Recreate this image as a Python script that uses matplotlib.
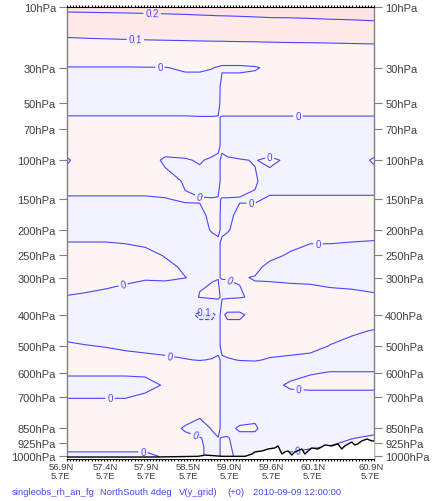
import matplotlib.pyplot as plt
import numpy as np
from matplotlib.transforms import blended_transform_factory

plt.rcParams['font.family'] = ['Liberation Sans', 'DejaVu Sans']

# section columns (deg N) and pressure levels (hPa)
lat = [56.90, 57.13, 57.40, 57.66, 57.92, 58.18, 58.44, 58.63, 58.79, 58.87,
       58.92, 58.99, 59.15, 59.35, 59.54, 59.81, 60.07, 60.33, 60.61, 60.90]
plev = [10, 15, 20, 25, 30, 40, 50, 60, 70, 85, 100, 125, 150, 175, 200, 225,
        250, 275, 300, 350, 400, 450, 500, 550, 600, 650, 700, 775, 850, 900,
        950, 1000, 1013]

# V increment, one row per level, one value per column
v_inc = [
    [.22, .22, .22, .22, .22, .22, .22, .22, .22, .22, .22, .22, .22, .22, .22, .218, .217, .216, .215, .215],
    [.13, .135, .14, .145, .15, .155, .16, .165, .168, .17, .17, .171, .173, .176, .179, .182, .185, .188, .19, .192],
    [.082, .083, .084, .085, .086, .087, .088, .089, .09, .09, .09, .091, .092, .093, .095, .097, .098, .1, .101, .102],
    [.04, .04, .04, .04, .04, .04, .04, .04, .04, .04, .04, .04, .04, .04, .05, .055, .06, .065, .07, .07],
    [-.003, -.003, -.003, -.003, -.002, -.002, .008, .008, .002, -.005, -.01, -.01, -.01, -.005, .01, .03, .035, .04, .045, .05],
    [-.03, -.03, -.03, -.03, -.03, -.03, -.03, -.03, -.03, -.03, .03, .03, .03, .03, .03, .035, .035, .04, .04, .04],
    [-.02, -.02, -.02, -.02, -.02, -.02, -.02, -.02, -.02, -.02, .025, .025, .025, .025, .025, .025, .025, .025, .025, .025],
    [.002, .002, .002, .002, .002, .002, .002, .001, .001, .002, -.002, -.002, -.002, -.002, -.002, -.002, -.002, -.002, -.002, -.002],
    [.02, .02, .02, .02, .02, .02, .02, .02, .02, .02, -.02, -.02, -.02, -.02, -.02, -.02, -.02, -.02, -.02, -.02],
    [.02, .03, .03, .03, .03, .03, .03, .03, .03, .03, -.03, -.03, -.03, -.03, -.03, -.03, -.03, -.03, -.03, -.02],
    [-.005, .02, .03, .03, .03, -.01, -.005, .005, -.01, -.03, .03, .01, .003, -.002, .01, -.01, -.03, -.03, -.02, .005],
    [.02, .02, .02, .02, .02, .02, -.005, -.02, -.03, -.03, .03, .03, .02, .005, -.02, -.02, -.02, -.02, -.02, -.02],
    [-.005, -.005, -.005, -.005, -.005, -.002, .005, .003, .003, .005, -.003, -.003, -.003, -.006, .006, .006, .006, .006, .006, .006],
    [-.03, -.03, -.03, -.03, -.03, -.03, -.02, -.01, .01, .02, -.02, -.01, .01, .02, .02, .02, .02, .02, .02, .02],
    [-.02, -.02, -.02, -.02, -.02, -.02, -.02, -.02, .005, .01, -.01, -.005, .02, .02, .02, .02, .02, .02, .02, .02],
    [.002, .002, .002, -.001, -.005, -.02, -.02, -.02, -.02, -.01, .01, .02, .02, .02, .02, .01, .001, .001, -.002, -.005],
    [.02, .02, .02, .02, .01, -.002, -.02, -.02, -.02, -.02, .02, .02, .02, .02, .01, -.005, -.02, -.02, -.02, -.02],
    [.02, .02, .02, .02, .01, .008, -.005, -.02, -.01, -.01, .01, .01, .02, .01, -.01, -.02, -.02, -.02, -.02, -.02],
    [.01, .01, .008, .005, .003, .004, .0005, -.005, -.003, -.001, .001, .001, .003, -.002, -.005, -.008, -.01, -.012, -.014, -.016],
    [-.001, -.003, -.006, -.01, -.02, -.02, -.02, .002, .01, .01, -.01, -.01, -.005, .01, .02, .02, .02, .012, .01, .005],
    [-.03, -.03, -.03, -.03, -.03, -.03, -.06, -.12, -.12, -.08, .08, .12, .12, .06, .02, .02, .02, .02, .02, .02],
    [-.02, -.02, -.01, -.01, -.01, -.01, -.02, -.05, -.05, -.03, .03, .05, .05, .02, .01, .01, .01, .01, .005, -.002],
    [.008, .002, -.002, -.005, -.01, -.01, -.01, -.02, -.01, -.01, .01, .01, .01, .01, .01, .01, .01, -.001, -.01, -.02],
    [.02, .02, .02, .01, .01, .005, .001, -.001, .001, .005, -.005, -.002, .001, .002, -.002, -.005, -.01, -.02, -.02, -.02],
    [.005, .005, .005, .005, .005, .02, .02, .02, .02, .02, -.02, -.02, -.02, -.02, -.02, -.01, -.003, .002, .002, .002],
    [-.015, -.015, -.015, -.015, -.01, .003, .02, .02, .02, .02, -.02, -.02, -.02, -.02, -.01, .005, .015, .015, .015, .015],
    [-.002, -.002, -.002, -.002, .005, .02, .02, .02, .02, .02, -.02, -.02, -.02, -.02, -.02, -.01, -.02, -.02, -.02, -.02],
    [.02, .02, .02, .02, .02, .02, .02, .01, .02, .02, -.02, -.02, -.02, -.01, -.02, -.02, -.02, -.02, -.02, -.02],
    [.02, .02, .02, .02, .02, .02, -.005, -.02, .003, .01, -.01, -.01, .005, .005, -.02, -.02, -.02, -.02, -.02, -.01],
    [.02, .02, .02, .02, .02, .02, .01, .002, -.01, -.001, .001, .002, -.01, -.01, -.02, -.02, -.015, -.01, -.001, .005],
    [.01, .01, .01, .01, .01, .01, .01, .01, -.02, -.01, .01, .01, -.02, -.02, -.02, -.01, -.002, .002, .01, .01],
    [-.01, -.01, -.01, -.01, -.01, .005, .01, .01, -.02, -.01, .01, .01, -.01, -.01, -.01, .01, .01, .01, .01, .01],
    [-.01, -.01, -.01, -.01, -.01, .005, .01, .01, -.02, -.01, .01, .01, -.01, -.01, -.01, .01, .01, .01, .01, .01],
]

# surface pressure along the section (hPa)
sfc_lat = [56.90, 58.05, 58.61, 58.70, 58.92, 59.22, 59.31, 59.35, 59.44, 59.52,
           59.61, 59.65, 59.70, 59.74, 59.78, 59.83, 59.87, 59.96, 60.00, 60.04,
           60.09, 60.17, 60.26, 60.35, 60.43, 60.48, 60.52, 60.61, 60.65, 60.69,
           60.74, 60.81, 60.87, 60.90]
sfc_p = [1004, 1004, 1000, 993, 1000, 1000, 987, 975, 970, 959,
         953, 942, 987, 975, 970, 993, 975, 959, 987, 970,
         953, 959, 937, 942, 931, 959, 942, 921, 937, 931,
         915, 905, 915, 915]

clevels = [-0.3, -0.2, -0.1, 0.0, 0.1, 0.2, 0.3]
fill_colors = ['#dcdcff', '#e4e4fb', '#f3f3ff', '#fff4f4', '#ffe9e9', '#ffe3e3']

ytick_p = [10, 30, 50, 70, 100, 150, 200, 250, 300, 400, 500, 600, 700, 850, 925, 1000]
xtick_pos = [56.82, 57.40, 57.93, 58.48, 59.01, 59.56, 60.10, 60.86]
xtick_lat = ['56.9N', '57.4N', '57.9N', '58.5N', '59.0N', '59.6N', '60.1N', '60.9N']
xtick_lon = ['5.7E'] * 8

caption = ['singleobs_rh_an_fg', 'NorthSouth 4deg', 'V(y_grid)', '(+0)', '2010-09-09 12:00:00']
caption_x = [12, 100, 179, 227, 253]

# contour lines drawn, with where their labels go (lat, hPa)
lab_pos = {
    0.2: [(58.01, 11.1)],
    0.1: [(57.79, 18.6)],
    0.0: [(58.11, 29.6), (59.91, 60), (59.52, 90), (58.63, 145), (59.30, 158),
          (60.17, 219), (59.04, 300), (57.63, 316), (58.24, 535), (57.46, 692),
          (59.92, 680), (57.89, 975), (58.58, 874), (59.91, 975)],
    -0.1: [(58.67, 394)],
}

line_col = '#4646ff'
kappa = 0.286


def fwd(p):
    p = np.asarray(p, dtype=float)
    return np.sign(p) * np.abs(p) ** kappa


def inv(t):
    t = np.asarray(t, dtype=float)
    return np.sign(t) * np.abs(t) ** (1.0 / kappa)


fig = plt.figure(figsize=(4.39, 5.02), dpi=100)
ax = fig.add_axes([0.1526, 0.0845, 0.6993, 0.8996])
ax.set_yscale('function', functions=(fwd, inv))
ax.set_xlim(56.9, 60.9)
ax.set_ylim(1013, 10)

V = np.array(v_inc)
ax.contourf(lat, plev, V, levels=clevels, colors=fill_colors)

for lev, pos in lab_pos.items():
    cs = ax.contour(lat, plev, V, levels=[lev], colors=line_col, linewidths=0.8)
    ax.clabel(cs, manual=pos, inline=True, inline_spacing=2,
              fontsize=7, colors=line_col, fmt=lambda v: f'{v:g}')

# ground
ax.fill_between(sfc_lat, sfc_p, 1013, color='white', zorder=3, lw=0)
ax.plot(sfc_lat, sfc_p, color='black', lw=1.0, zorder=4)

ax.set_xlim(56.9, 60.9)
ax.set_ylim(1013, 10)

ax.set_yticks(ytick_p)
ax.set_yticklabels([f'{p}hPa' for p in ytick_p])
ax.yaxis.set_minor_locator(plt.NullLocator())
ax.tick_params(axis='y', which='major', left=True, right=True, labelleft=True,
               labelright=True, length=6, width=0.8, color='#808080',
               labelcolor='#404040', labelsize=8, pad=2)

ax.set_xticks([])
ax.set_xticks(np.linspace(56.9, 60.9, 101), minor=True)
ax.tick_params(axis='x', which='minor', top=True, bottom=True, direction='out',
               length=1.5, width=0.8, color='black')

for side in ['left', 'right']:
    ax.spines[side].set_color('#808080')
    ax.spines[side].set_linewidth(1.0)
for side in ['top', 'bottom']:
    ax.spines[side].set_color('black')
    ax.spines[side].set_linewidth(0.8)

trans = blended_transform_factory(ax.transData, ax.transAxes)
for x, a, b in zip(xtick_pos, xtick_lat, xtick_lon):
    ax.text(x, -0.008, f'{a}\n{b}', transform=trans, ha='center', va='top',
            fontsize=6.8, color='#404040', linespacing=0.95, clip_on=False)

for x, s in zip(caption_x, caption):
    fig.text(x / 439, 0.018, s, ha='left', va='center', fontsize=6.8, color='#4646ff')

fig.savefig('out.png', dpi=100)
